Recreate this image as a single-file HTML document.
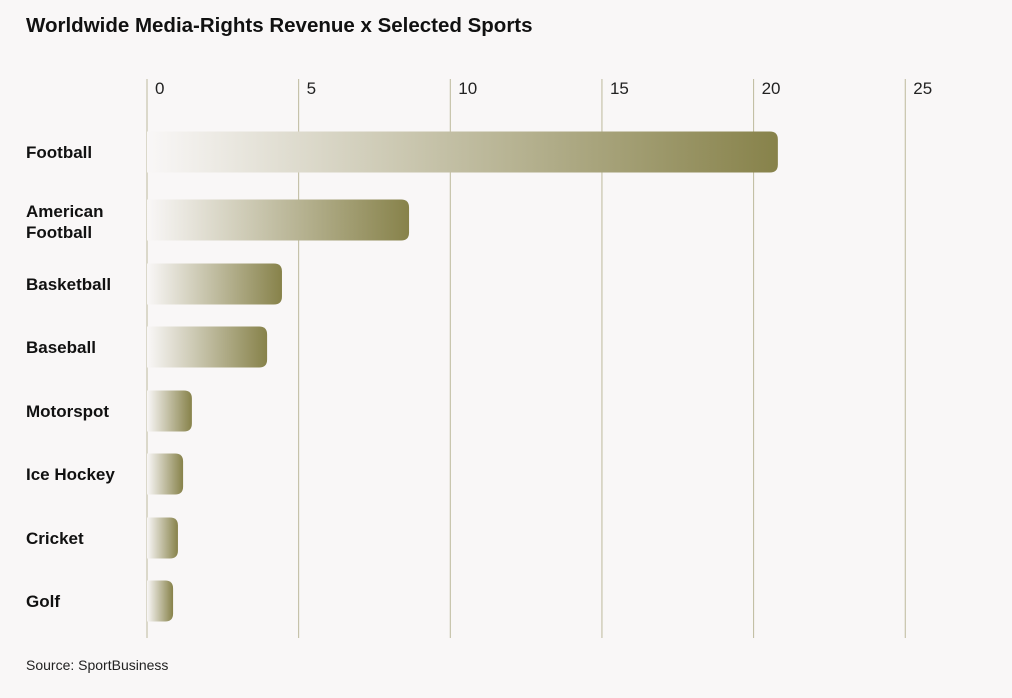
<!DOCTYPE html>
<html><head><meta charset="utf-8"><style>
body{margin:0;background:#f9f7f7;font-family:"Liberation Sans",sans-serif;}
#wrap{position:relative;width:1012px;height:698px;overflow:hidden;background:#f9f7f7}
.title{position:absolute;left:26px;top:14px;font-size:20.5px;font-weight:bold;color:#111}
.src{position:absolute;left:26px;top:657px;font-size:14px;color:#222}
</style></head><body>
<div id="wrap">
<div class="title">Worldwide Media-Rights Revenue x Selected Sports</div>
<svg id="chart" width="1012" height="698" style="position:absolute;left:0;top:0">
<defs><linearGradient id="g" x1="0" x2="1" y1="0" y2="0"><stop offset="0" stop-color="#f9f7f7"/><stop offset="1" stop-color="#87824a"/></linearGradient></defs>
</svg>
<div class="src">Source: SportBusiness</div>
</div>
<script>
const categories=["Football","American Football","Basketball","Baseball","Motorspot","Ice Hockey","Cricket","Golf"];
const values=[20.8,8.64,4.45,3.96,1.48,1.19,1.02,0.86];
const ticks=[0,5,10,15,20,25];
const rowCenters=[152,220,284,347,411,474,538,601];
const svg=document.getElementById('chart');
const NS='http://www.w3.org/2000/svg';
const x=v=>147+v*30.33;
function mk(t,a){const e=document.createElementNS(NS,t);for(const k in a)e.setAttribute(k,a[k]);svg.appendChild(e);return e;}
ticks.forEach(t=>{
 const l=mk('line',{x1:x(t),x2:x(t),y1:79,y2:638,stroke:'#bdb99c','stroke-width':1});
 
 
 const tx=mk('text',{x:x(t)+8,y:94,'font-size':17,fill:'#222','font-family':'Liberation Sans,sans-serif'});
 tx.textContent=t;
 
 
});
categories.forEach((c,i)=>{
 const cy=rowCenters[i],h=41,w=x(values[i])-x(0),r=8;
 const x0=x(0),x1=x0+w,y0=cy-h/2,y1=cy+h/2;
 const p=mk('path',{d:`M${x0},${y0}H${x1-r}Q${x1},${y0} ${x1},${y0+r}V${y1-r}Q${x1},${y1} ${x1-r},${y1}H${x0}Z`,fill:'url(#g)'});
 
 
 const words=c.split(' ');
 const t=mk('text',{x:26,y:0,'font-size':17,'font-weight':'bold',fill:'#111','font-family':'Liberation Sans,sans-serif'});
 
 
 if(words.length>1&&c.length>12){
  words.forEach((w2,j)=>{const s=document.createElementNS(NS,'tspan');s.setAttribute('x',26);s.setAttribute('y',cy-3+j*21);s.textContent=w2;t.appendChild(s);});
 } else {t.setAttribute('y',cy+6);t.textContent=c;}
});
</script>
</body></html>
